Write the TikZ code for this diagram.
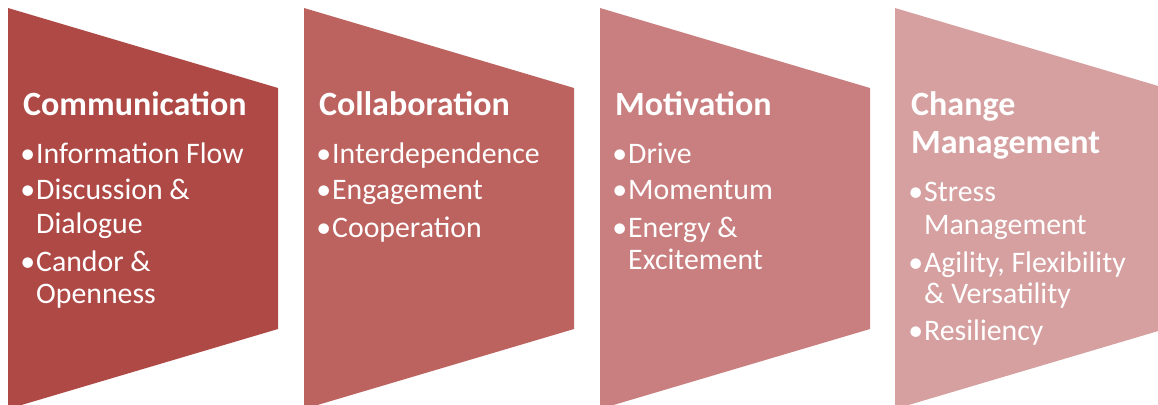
\documentclass[tikz,border=0pt]{standalone}
\usepackage{fontspec}
\setmainfont{Carlito}
\begin{document}
\begin{tikzpicture}[x=1pt,y=-1pt,
  title/.style={anchor=base west,inner sep=0pt,text=white,font=\bfseries\fontsize{34}{38}\selectfont},
  item/.style={anchor=base west,inner sep=0pt,text=white,font=\fontsize{29.8}{33}\selectfont},
]
\definecolor{stepA}{RGB}{174,73,70}
\definecolor{stepB}{RGB}{188,98,95}
\definecolor{stepC}{RGB}{201,127,127}
\definecolor{stepD}{RGB}{214,160,160}
\useasboundingbox (0,0) rectangle (1158,404);
\clip (0,0) rectangle (1158,404);
% chevron panels
\foreach \L/\c in {8/stepA,304/stepB,600/stepC,895/stepD}
  \fill[\c] (\L,8) -- (\L+270,88) -- (\L+270,329) -- (\L,409) -- cycle;
% panel 1
\node[title] (t1) at (23,115) {Communication};
\node[item] (a1) at (36,163) {\llap{•\hspace{1pt}}Information Flow};
\node[item] (a2) at (36,199) {\llap{•\hspace{1pt}}Discussion \&};
\node[item] (a3) at (36,233) {Dialogue};
\node[item] (a4) at (36,271) {\llap{•\hspace{1pt}}Candor \&};
\node[item] (a5) at (36,303) {Openness};
% panel 2
\node[title] (t2) at (319,115) {Collaboration};
\node[item] (b1) at (332,163) {\llap{•\hspace{1pt}}Interdependence};
\node[item] (b2) at (332,199) {\llap{•\hspace{1pt}}Engagement};
\node[item] (b3) at (332,237) {\llap{•\hspace{1pt}}Cooperation};
% panel 3
\node[title] (t3) at (615,115) {Motivation};
\node[item] (c1) at (628,163) {\llap{•\hspace{1pt}}Drive};
\node[item] (c2) at (628,199) {\llap{•\hspace{1pt}}Momentum};
\node[item] (c3) at (628,237) {\llap{•\hspace{1pt}}Energy \&};
\node[item] (c4) at (628,269) {Excitement};
% panel 4
\node[title] (t4a) at (911,115) {Change};
\node[title] (t4b) at (911,153) {Management};
\node[item] (d1) at (924,201) {\llap{•\hspace{1pt}}Stress};
\node[item] (d2) at (924,234) {Management};
\node[item] (d3) at (924,272) {\llap{•\hspace{1pt}}Agility, Flexibility};
\node[item] (d4) at (924,303) {\& Versatility};
\node[item] (d5) at (924,340) {\llap{•\hspace{1pt}}Resiliency};
\end{tikzpicture}
\end{document}
